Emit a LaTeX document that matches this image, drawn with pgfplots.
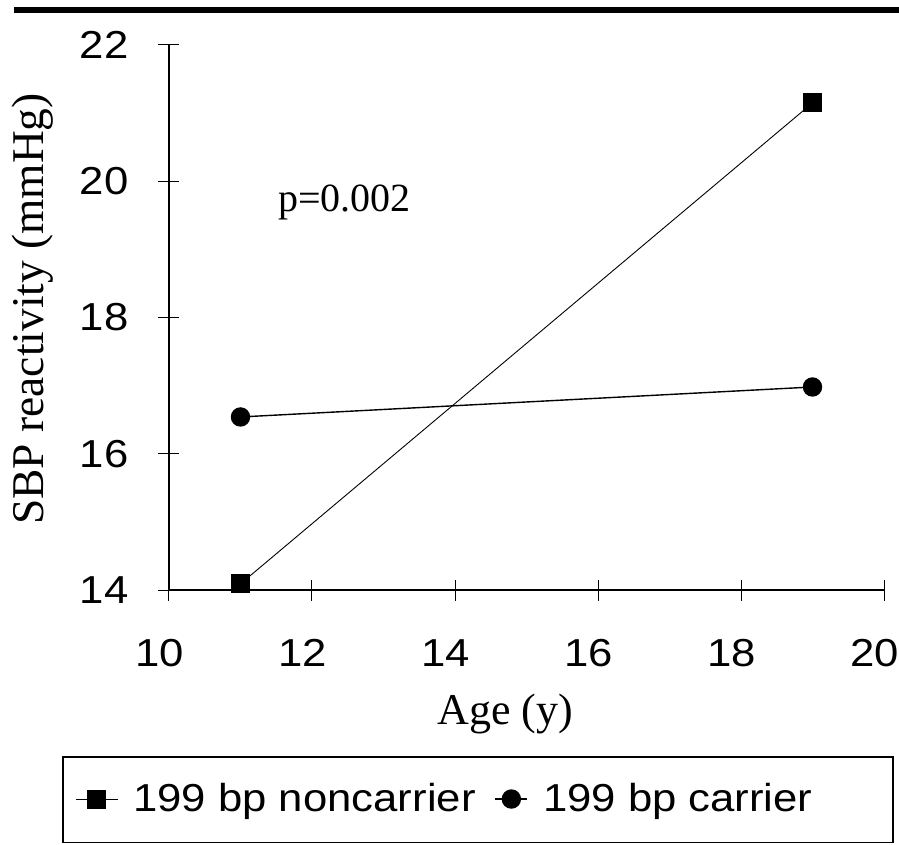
\documentclass[border=0pt]{standalone}
\usepackage{pgfplots}
\pgfplotsset{compat=1.18}
\usepackage{fontspec}
\setmainfont{Liberation Serif}
\newfontfamily\arial[FakeStretch=1.12]{Liberation Sans}

\begin{document}
\begin{tikzpicture}
\useasboundingbox (-84.5pt,-127.5pt) rectangle (365pt,295pt);
\begin{axis}[
  at={(0pt,0pt)}, anchor=south west,
  scale only axis, width=357.5pt, height=272.5pt,
  xmin=10, xmax=20, ymin=14, ymax=22,
  xtick={10,12,...,20}, ytick={14,16,...,22},
  axis lines=left, axis line style={-, line width=0.7pt},
  tick align=center, major tick length=10.5pt,
  tick style={black, line width=0.5pt},
  clip=false,
  /pgf/number format/assume math mode=true,
  tick label style={font=\arial\fontsize{19.5}{22}\selectfont},
  xticklabel style={yshift=-16pt, xshift=-4.5pt},
  yticklabel style={xshift=-11.5pt},
  xlabel={Age (y)}, ylabel={SBP reactivity (mmHg)},
  xlabel style={at={(axis description cs:0.47,-0.2477)}, anchor=base,
    font=\fontsize{22}{26}\selectfont},
  ylabel style={at={(axis description cs:-0.1762,0.5156)}, anchor=base,
    font=\fontsize{22.7}{27}\selectfont},
  legend columns=2,
  legend style={at={(axis description cs:-0.14825,-0.30642)}, anchor=north west,
    draw=none, fill=none, font=\arial\fontsize{19.5}{22}\selectfont,
    inner xsep=6pt, inner ysep=13pt, nodes={inner sep=0pt},
    /tikz/every odd column/.append style={column sep=7.5pt},
    /tikz/every even column/.append style={column sep=9.5pt}},
]

% 199 bp noncarrier
\addplot[black, line width=0.45pt, mark=square*, mark size=4.5pt, mark options={solid, fill=black},
  legend image code/.code={\draw[mark repeat=2,mark phase=2] plot coordinates {(0pt,0pt)(10.5pt,0pt)(21pt,0pt)};}]
  coordinates {(11,14.09) (19,21.15)};
\addlegendentry{199 bp noncarrier}

% 199 bp carrier
\addplot[black, line width=0.7pt, mark=*, mark size=4.5pt, mark options={solid, fill=black},
  legend image code/.code={\draw[mark repeat=2,mark phase=2] plot coordinates {(0pt,0pt)(8pt,0pt)(16pt,0pt)};}]
  coordinates {(11,16.54) (19,16.98)};
\addlegendentry{199 bp carrier}

\node[anchor=base west, inner sep=0pt, font=\fontsize{20}{24}\selectfont] at (axis cs:11.52,19.55) {p=0.002};
\end{axis}
% frame round the legend and the rule at the top
\draw[line width=0.6pt] (-53pt,-126.3pt) rectangle (362pt,-83.5pt);
\fill[black] (-77.5pt,288.5pt) rectangle (365pt,291.5pt);
\end{tikzpicture}
\end{document}
